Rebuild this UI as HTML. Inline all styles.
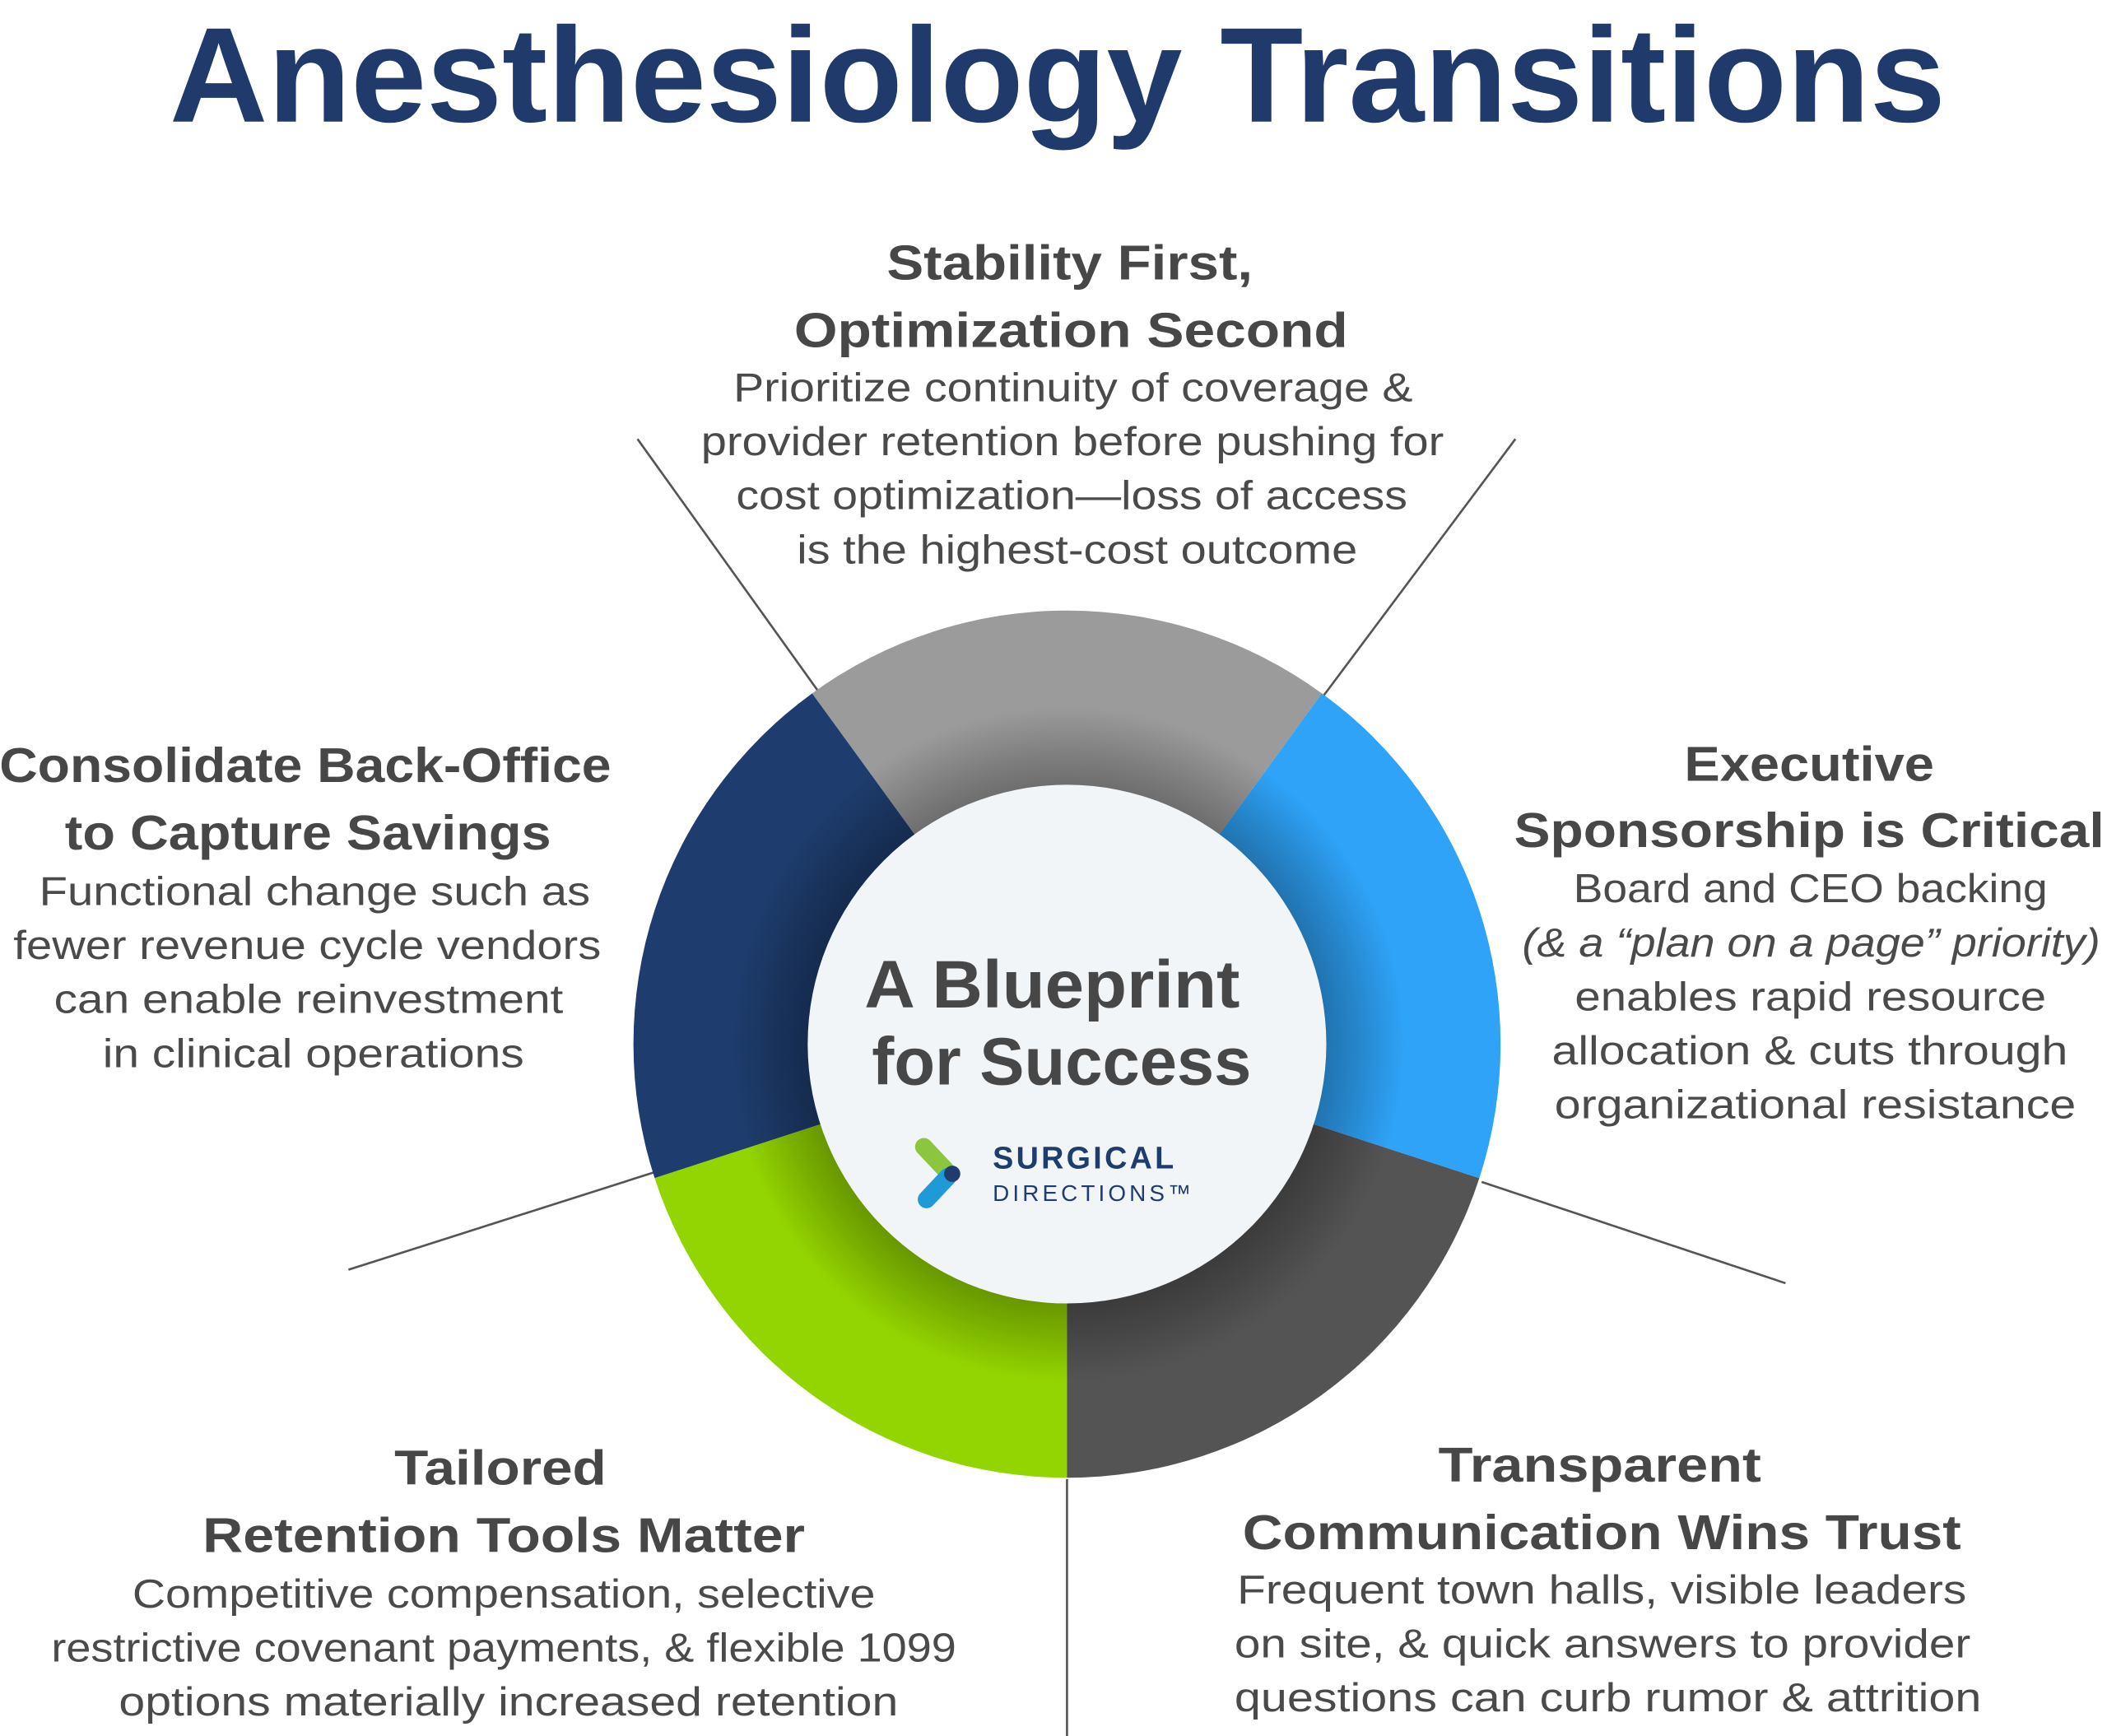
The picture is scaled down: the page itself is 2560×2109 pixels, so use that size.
<!DOCTYPE html>
<html><head><meta charset="utf-8"><style>
html,body{margin:0;padding:0;background:#fff;}
svg{display:block;}
text{font-family:"Liberation Sans",sans-serif;}
.h{font-weight:bold;font-size:36px;fill:#474747;text-anchor:middle;}
.b{font-size:30px;fill:#4a4a4a;text-anchor:middle;}
</style></head><body>
<svg width="2560" height="2109" viewBox="0 0 1560 1285.2" xmlns="http://www.w3.org/2000/svg">
<defs>
<radialGradient id="sh" cx="790" cy="773" r="250" gradientUnits="userSpaceOnUse">
<stop offset="0.76" stop-color="#000" stop-opacity="0.3"/>
<stop offset="0.86" stop-color="#000" stop-opacity="0.18"/>
<stop offset="1" stop-color="#000" stop-opacity="0"/>
</radialGradient>
</defs>
<text x="783" y="90" font-size="100" font-weight="bold" fill="#1f3a6b" text-anchor="middle" textLength="1315" lengthAdjust="spacingAndGlyphs">Anesthesiology Transitions</text>

<g stroke="#555" stroke-width="1.6">
<line x1="472" y1="325" x2="606" y2="512"/>
<line x1="1122" y1="325" x2="980" y2="515"/>
<line x1="1097" y1="875" x2="1322" y2="950"/>
<line x1="790" y1="1095" x2="790" y2="1290"/>
<line x1="484" y1="868" x2="258" y2="940"/>
</g>

<path d="M790 773 L978.7 513.3 A321 321 0 0 0 601.3 513.3 Z" fill="#9b9b9b"/>
<path d="M790 773 L601.3 513.3 A321 321 0 0 0 484.7 872.2 Z" fill="#1e3d6e"/>
<path d="M790 773 L484.7 872.2 A321 321 0 0 0 790 1094 Z" fill="#93d500"/>
<path d="M790 773 L790 1094 A321 321 0 0 0 1095.3 872.2 Z" fill="#545454"/>
<path d="M790 773 L1095.3 872.2 A321 321 0 0 0 978.7 513.3 Z" fill="#2ea3f8"/>
<circle cx="790" cy="773" r="250" fill="url(#sh)"/>
<circle cx="790" cy="773" r="192" fill="#f2f5f7"/>

<text x="779" y="746" font-size="50" font-weight="bold" fill="#474747" text-anchor="middle" textLength="278" lengthAdjust="spacingAndGlyphs">A Blueprint</text>
<text x="786" y="803" font-size="50" font-weight="bold" fill="#474747" text-anchor="middle" textLength="281" lengthAdjust="spacingAndGlyphs">for Success</text>
<g stroke-linecap="round" stroke-width="13" fill="none">
<line x1="684" y1="849" x2="700" y2="866" stroke="#8cc63f"/>
<line x1="686" y1="888" x2="702" y2="871" stroke="#1e9ad6"/>
</g>
<circle cx="705" cy="869" r="6" fill="#1e3d6e"/>
<text x="735" y="865" font-size="23" font-weight="bold" fill="#1e3d6e" letter-spacing="2">SURGICAL</text>
<text x="735" y="889" font-size="17" fill="#1e3d6e" letter-spacing="2.5">DIRECTIONS™</text>

<text class="h" x="792" y="207" textLength="271" lengthAdjust="spacingAndGlyphs">Stability First,</text>
<text class="h" x="793" y="257" textLength="410" lengthAdjust="spacingAndGlyphs">Optimization Second</text>
<text class="b" x="794.5" y="297" textLength="503" lengthAdjust="spacingAndGlyphs">Prioritize continuity of coverage &amp;</text>
<text class="b" x="794" y="337" textLength="550" lengthAdjust="spacingAndGlyphs">provider retention before pushing for</text>
<text class="b" x="793.5" y="377" textLength="497" lengthAdjust="spacingAndGlyphs">cost optimization—loss of access</text>
<text class="b" x="797.5" y="417" textLength="415" lengthAdjust="spacingAndGlyphs">is the highest-cost outcome</text>

<text class="h" x="226" y="579" textLength="453" lengthAdjust="spacingAndGlyphs">Consolidate Back-Office</text>
<text class="h" x="228" y="629" textLength="360" lengthAdjust="spacingAndGlyphs">to Capture Savings</text>
<text class="b" x="233" y="670" textLength="408" lengthAdjust="spacingAndGlyphs">Functional change such as</text>
<text class="b" x="227.5" y="710" textLength="435" lengthAdjust="spacingAndGlyphs">fewer revenue cycle vendors</text>
<text class="b" x="228.5" y="750" textLength="377" lengthAdjust="spacingAndGlyphs">can enable reinvestment</text>
<text class="b" x="232" y="790" textLength="312" lengthAdjust="spacingAndGlyphs">in clinical operations</text>

<text class="h" x="1339.5" y="578" textLength="185" lengthAdjust="spacingAndGlyphs">Executive</text>
<text class="h" x="1339.5" y="627" textLength="437" lengthAdjust="spacingAndGlyphs">Sponsorship is Critical</text>
<text class="b" x="1340.5" y="668" textLength="351" lengthAdjust="spacingAndGlyphs">Board and CEO backing</text>
<text class="b" x="1341" y="708" font-style="italic" textLength="428" lengthAdjust="spacingAndGlyphs">(&amp; a “plan on a page” priority)</text>
<text class="b" x="1340.5" y="748" textLength="349" lengthAdjust="spacingAndGlyphs">enables rapid resource</text>
<text class="b" x="1340" y="788" textLength="382" lengthAdjust="spacingAndGlyphs">allocation &amp; cuts through</text>
<text class="b" x="1344" y="828" textLength="386" lengthAdjust="spacingAndGlyphs">organizational resistance</text>

<text class="h" x="370.5" y="1099" textLength="157" lengthAdjust="spacingAndGlyphs">Tailored</text>
<text class="h" x="373" y="1149" textLength="446" lengthAdjust="spacingAndGlyphs">Retention Tools Matter</text>
<text class="b" x="373" y="1190" textLength="550" lengthAdjust="spacingAndGlyphs">Competitive compensation, selective</text>
<text class="b" x="373" y="1230" textLength="670" lengthAdjust="spacingAndGlyphs">restrictive covenant payments, &amp; flexible 1099</text>
<text class="b" x="376.5" y="1270" textLength="577" lengthAdjust="spacingAndGlyphs">options materially increased retention</text>

<text class="h" x="1184.5" y="1097" textLength="239" lengthAdjust="spacingAndGlyphs">Transparent</text>
<text class="h" x="1186" y="1147" textLength="532" lengthAdjust="spacingAndGlyphs">Communication Wins Trust</text>
<text class="b" x="1186" y="1187" textLength="540" lengthAdjust="spacingAndGlyphs">Frequent town halls, visible leaders</text>
<text class="b" x="1186.5" y="1227" textLength="545" lengthAdjust="spacingAndGlyphs">on site, &amp; quick answers to provider</text>
<text class="b" x="1190.5" y="1267" textLength="553" lengthAdjust="spacingAndGlyphs">questions can curb rumor &amp; attrition</text>
</svg>
</body></html>
